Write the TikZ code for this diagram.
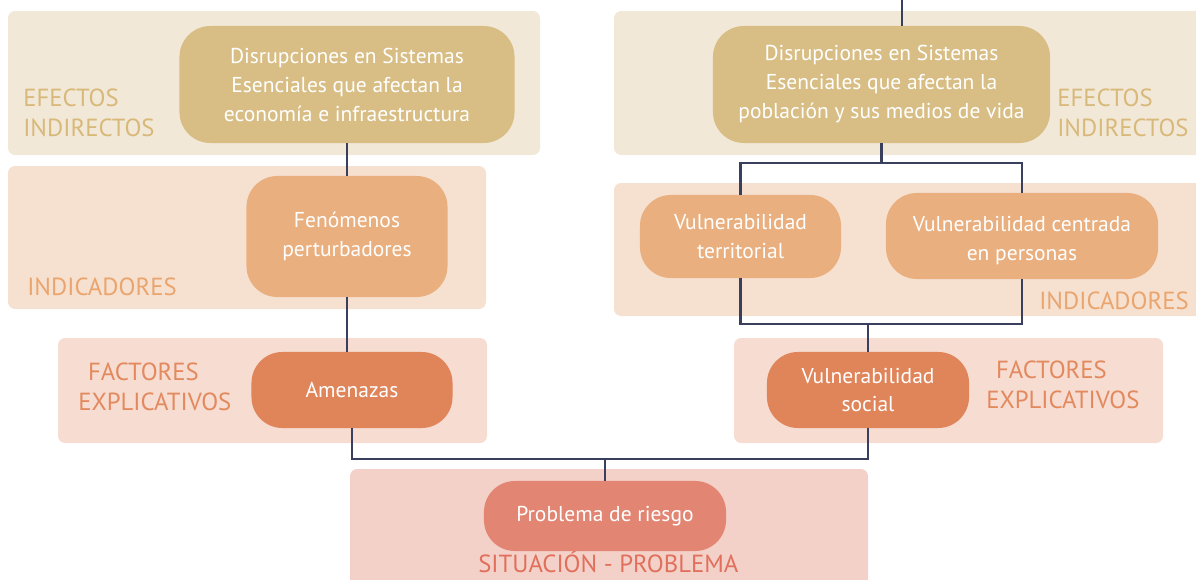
\documentclass[tikz,border=0pt]{standalone}
\usepackage{fontspec}
\setmainfont{PT Sans}
\definecolor{efpanel}{HTML}{F2E8D7}
\definecolor{inpanel}{HTML}{F6E1D1}
\definecolor{fapanel}{HTML}{F6DCD1}
\definecolor{sipanel}{HTML}{F4D1C8}
\definecolor{efbox}{HTML}{D8BE85}
\definecolor{inbox}{HTML}{E9AF7F}
\definecolor{fabox}{HTML}{E0845A}
\definecolor{sibox}{HTML}{E28573}
\definecolor{eftext}{HTML}{D8B97A}
\definecolor{intext}{HTML}{EAA56E}
\definecolor{fatext}{HTML}{E3895E}
\definecolor{sitext}{HTML}{E06F5C}
\definecolor{linkcol}{HTML}{3A3F5E}
\begin{document}
\begin{tikzpicture}[
        x=0.025cm, y=-0.025cm,
        panel/.style={rounded corners=5pt},
        box/.style={rounded corners=22pt, text=white, align=center,
                    inner sep=0pt, font=\fontsize{15.3}{20.6}\selectfont},
        tag/.style={inner sep=0pt,
                    font=\fontsize{17.6}{21.3}\selectfont},
        link/.style={draw=linkcol, line width=2.1pt}
      ]
        \useasboundingbox (0,0) rectangle (1196,579);
        % background bands
        \fill[panel, efpanel] (8,11) rectangle (540,155);
        \fill[panel, efpanel] (614,11) rectangle (1215,155);
        \fill[panel, inpanel] (8,166) rectangle (486,309);
        \fill[panel, inpanel] (614,183) rectangle (1215,316);
        \fill[panel, fapanel] (58,338) rectangle (487,443);
        \fill[panel, fapanel] (734,338) rectangle (1163,443);
        \fill[panel, sipanel] (350,469) rectangle (868,600);

        % band labels
        \node[tag, align=left, text=eftext, anchor=west] (efizq) at (23,113)
          {EFECTOS\\INDIRECTOS};
        \node[tag, align=left, text=eftext, anchor=west] (efder) at (1057,113)
          {EFECTOS\\INDIRECTOS};
        \node[tag, text=intext, anchor=base west] (inizq) at (27,295)
          {INDICADORES};
        \node[tag, text=intext, anchor=base west] (inder) at (1039,309)
          {INDICADORES};
        \node[tag, align=left, text=fatext, anchor=west] (faizq) at (78,387)
          {\hspace*{7pt}FACTORES\\EXPLICATIVOS};
        \node[tag, align=left, text=fatext, anchor=west] (fader) at (986,385)
          {\hspace*{7pt}FACTORES\\EXPLICATIVOS};
        \node[tag, text=sitext, anchor=base west] (situacion) at (478,572)
          {SITUACIÓN - PROBLEMA};

        % boxes
        \node[box, fill=efbox, minimum width=8.375cm, minimum height=2.925cm]
          (diseco) at (347,84.5)
          {Disrupciones en Sistemas\\Esenciales que afectan la\\economía e infraestructura};
        \node[box, fill=efbox, minimum width=8.425cm, minimum height=2.925cm]
          (dispob) at (881.5,84.5)
          {Disrupciones en Sistemas\\Esenciales que afectan la\\población y sus medios de vida};
        \node[box, fill=inbox, minimum width=5.025cm, minimum height=3.025cm]
          (fenom) at (347,236.5) {Fenómenos\\perturbadores};
        \node[box, fill=inbox, minimum width=5.025cm, minimum height=2.075cm]
          (vterr) at (740.5,236.5) {Vulnerabilidad\\territorial};
        \node[box, fill=inbox, minimum width=6.8cm, minimum height=2.15cm]
          (vpers) at (1022,236) {\raisebox{-3pt}[\height][\depth]{\parbox{6cm}{\centering
          Vulnerabilidad centrada\\en personas}}};
        \node[box, fill=fabox, minimum width=5.025cm, minimum height=1.9cm]
          (amen) at (352,390) {Amenazas};
        \node[box, fill=fabox, minimum width=5.05cm, minimum height=1.9cm]
          (vsoc) at (868,390) {Vulnerabilidad\\social};
        \node[box, fill=sibox, minimum width=6.05cm, minimum height=1.75cm]
          (prob) at (605,516) {Problema de riesgo};

        % junctions
        \coordinate (arriba) at (902,0);
        \coordinate (jpob) at (881.5,163);
        \coordinate (jsoc) at (868,324);
        \coordinate (jprob) at (605,459);

        % connectors
        \draw[link] (arriba) -- (arriba |- dispob.north);
        \draw[link] (diseco.south) -- (fenom.north);
        \draw[link] (fenom.south) -- (fenom.south |- amen.north);
        \draw[link] (dispob.south) -- (jpob);
        \draw[link] (vterr.north) |- (jpob) -| (vpers.north);
        \draw[link] (vterr.south) |- (jsoc) -| (vpers.south);
        \draw[link] (jsoc) -- (vsoc.north);
        \draw[link] (amen.south) |- (jprob) -| (vsoc.south);
        \draw[link] (jprob) -- (prob.north);
      \end{tikzpicture}
\end{document}
